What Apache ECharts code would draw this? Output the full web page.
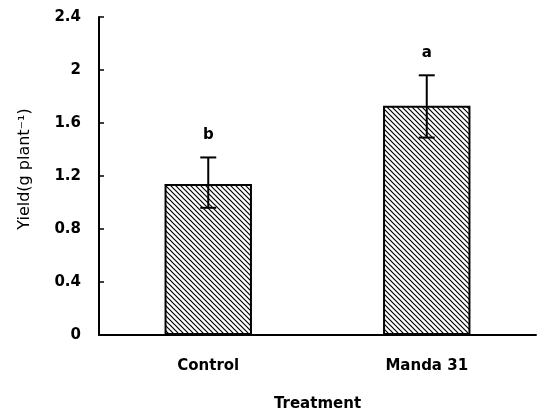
<!DOCTYPE html>
<html><head><meta charset="utf-8">
<script src="https://cdn.jsdelivr.net/npm/echarts@6/dist/echarts.min.js"></script>
<style>html,body{margin:0;padding:0;background:#fff}#c{width:538px;height:412px}</style>
</head><body><div id="c"></div>
<script>
const categories = ['Control', 'Manda 31'];
const yieldMean = [1.14, 1.73];
const errLow = [0.96, 1.49];
const errHigh = [1.34, 1.96];
const letters = ['b', 'a'];
const yTicks = [0, 0.4, 0.8, 1.2, 1.6, 2, 2.4];

function hatch() {
  const c = document.createElement('canvas');
  const s = 5;
  c.width = s; c.height = s;
  const g = c.getContext('2d');
  g.fillStyle = '#fff'; g.fillRect(0, 0, s, s);
  g.strokeStyle = '#000'; g.lineWidth = 1.2;
  g.beginPath();
  g.moveTo(-1, -1); g.lineTo(s + 1, s + 1);
  g.moveTo(-1, s - 1); g.lineTo(1, s + 1);
  g.moveTo(s - 1, -1); g.lineTo(s + 1, 1);
  g.stroke();
  return c;
}

const font = 'DejaVu Sans';
const chart = echarts.init(document.getElementById('c'));
chart.setOption({
  animation: false,
  grid: {left: 99, right: 2, top: 17, bottom: 77, containLabel: false, outerBoundsMode: 'none'},
  xAxis: {
    type: 'category', data: categories,
    name: 'Treatment', nameLocation: 'middle', nameGap: 62,
    nameTextStyle: {fontFamily: font, fontSize: 15, fontWeight: 'bold', color: '#000'},
    axisLine: {lineStyle: {color: '#000', width: 2}},
    axisTick: {inside: true, length: 6, lineStyle: {color: '#000', width: 1.5}},
    axisLabel: {margin: 24, fontFamily: font, fontSize: 15, fontWeight: 'bold', color: '#000'}
  },
  yAxis: {
    type: 'value', min: 0, max: 2.4, interval: 0.4,
    name: 'Yield(g plant\u207B\u00B9)', nameLocation: 'middle', nameGap: 66,
    nameTextStyle: {fontFamily: font, fontSize: 16, color: '#000', padding: [0, 0, 0, 14]},
    axisLine: {show: true, lineStyle: {color: '#000', width: 2}},
    axisTick: {show: true, inside: true, length: 5, lineStyle: {color: '#000', width: 1.5}},
    splitLine: {show: false},
    axisLabel: {margin: 18, fontFamily: font, fontSize: 15, fontWeight: 'bold', color: '#000',
      formatter: v => { const t = yTicks.find(x => Math.abs(x - v) < 1e-9); return t === undefined ? '' : String(t); }}
  },
  series: [
    {
      type: 'bar', data: yieldMean, barWidth: '40%',
      itemStyle: {color: {image: hatch(), repeat: 'repeat'}, borderColor: '#000', borderWidth: 2}
    },
    {
      type: 'custom', z: 10,
      data: categories.map((c, i) => [i, errLow[i], errHigh[i]]),
      renderItem: (params, api) => {
        const x = api.value(0);
        const lo = api.coord([x, api.value(1)]);
        const hi = api.coord([x, api.value(2)]);
        const w = 8;
        const st = {stroke: '#000', lineWidth: 2};
        return {type: 'group', children: [
          {type: 'line', shape: {x1: hi[0], y1: hi[1], x2: lo[0], y2: lo[1]}, style: st},
          {type: 'line', shape: {x1: hi[0] - w, y1: hi[1], x2: hi[0] + w, y2: hi[1]}, style: st},
          {type: 'line', shape: {x1: lo[0] - w, y1: lo[1], x2: lo[0] + w, y2: lo[1]}, style: st},
          {type: 'text', x: hi[0], y: hi[1] - 22, style: {text: letters[params.dataIndex], fill: '#000',
            font: 'bold 15px ' + font, textAlign: 'center', textVerticalAlign: 'middle'}}
        ]};
      }
    }
  ]
});
</script></body></html>
